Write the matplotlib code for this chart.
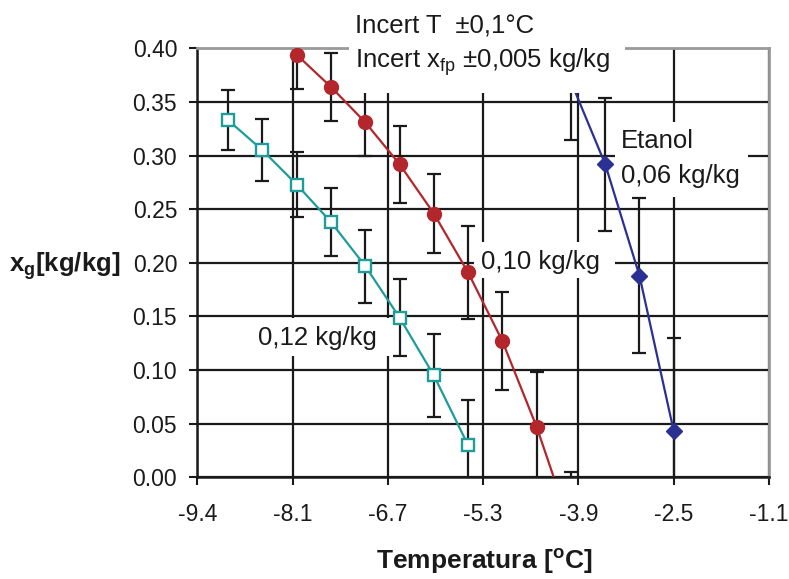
import matplotlib
matplotlib.use("Agg")
import matplotlib.pyplot as plt
from matplotlib.patches import Rectangle

plt.rcParams['font.family'] = ['Liberation Sans', 'DejaVu Sans']
plt.rcParams['mathtext.fontset'] = 'custom'
plt.rcParams['mathtext.rm'] = 'Liberation Sans'
plt.rcParams['mathtext.bf'] = 'Liberation Sans:bold'
plt.rcParams['mathtext.it'] = 'Liberation Sans:italic'

# 0,12 kg/kg
temp_12 = [-9.0, -8.5, -8.0, -7.5, -7.0, -6.5, -6.0, -5.5]
xg_12 = [0.333, 0.305, 0.273, 0.238, 0.197, 0.149, 0.095, 0.030]
err_12 = [0.028, 0.029, 0.030, 0.032, 0.034, 0.036, 0.039, 0.042]

# 0,10 kg/kg
temp_10 = [-8.0, -7.5, -7.0, -6.5, -6.0, -5.5, -5.0, -4.5, -4.0]
xg_10 = [0.394, 0.364, 0.331, 0.292, 0.246, 0.191, 0.127, 0.047, -0.047]
err_10 = [0.032, 0.032, 0.031, 0.036, 0.037, 0.043, 0.046, 0.051, 0.052]

# Etanol 0,06 kg/kg
temp_et = [-4.0, -3.5, -3.0, -2.5]
xg_et = [0.369, 0.292, 0.188, 0.043]
err_et = [0.054, 0.062, 0.072, 0.087]

x_ticks = [-9.45, -8.06, -6.67, -5.28, -3.89, -2.5, -1.11]
x_labels = ["-9.4", "-8.1", "-6.7", "-5.3", "-3.9", "-2.5", "-1.1"]
y_ticks = [0.0, 0.05, 0.10, 0.15, 0.20, 0.25, 0.30, 0.35, 0.40]
y_labels = ["0.00", "0.05", "0.10", "0.15", "0.20", "0.25", "0.30", "0.35", "0.40"]

teal = '#1e9c99'
red = '#b3262c'
blue = '#2a3192'
ink = '#1a1a1a'

fig = plt.figure(figsize=(7.89, 5.79), dpi=100)
ax = fig.add_axes([0.2501, 0.1756, 0.7246, 0.7409])

ax.set_xlim(x_ticks[0], x_ticks[-1])
ax.set_ylim(0, 0.40)
ax.set_xticks(x_ticks)
ax.set_xticklabels(x_labels)
ax.set_yticks(y_ticks)
ax.set_yticklabels(y_labels)
ax.tick_params(direction='out', length=5.5, width=1.5, labelsize=16.5, colors=ink)
ax.tick_params(axis='x', pad=13)
ax.tick_params(axis='y', pad=9)
ax.grid(True, color=ink, lw=1.6)
ax.set_axisbelow(True)

for s in ['left', 'bottom']:
    ax.spines[s].set_color(ink)
    ax.spines[s].set_linewidth(1.8)
for s in ['top', 'right']:
    ax.spines[s].set_color('#9a9a9a')
    ax.spines[s].set_linewidth(2)

# white label boxes (under data)
for (x0, y0, w, h) in [(0.092, 0.283, 0.245, 0.088), (0.484, 0.465, 0.247, 0.083),
                       (0.730, 0.653, 0.233, 0.175)]:
    ax.add_patch(Rectangle((x0, y0), w, h, transform=ax.transAxes, facecolor='white',
                           edgecolor='none', zorder=1.5))

eb = dict(fmt='none', ecolor=ink, elinewidth=1.6, capsize=4.7, capthick=1.6, zorder=3)
ax.errorbar(temp_12, xg_12, yerr=err_12, **eb)
ax.errorbar(temp_10, xg_10, yerr=err_10, **eb)
ax.errorbar(temp_et, xg_et, yerr=err_et, **eb)

ax.plot(temp_12, xg_12, color=teal, lw=1.6, marker='s', ms=8.5, mfc='white', mec=teal,
        mew=1.7, zorder=4)
ax.plot(temp_10, xg_10, color=red, lw=1.6, marker='o', ms=10, mfc=red, mec=red, zorder=4)
ax.plot(temp_et, xg_et, color=blue, lw=1.6, marker='D', ms=8, mfc=blue, mec=blue, zorder=4)

# top box with uncertainty text covers plot top
ax.add_patch(Rectangle((0.265, 0.896), 0.483, 0.25, transform=ax.transAxes, facecolor='white',
                       edgecolor='none', zorder=6, clip_on=False))
ax.text(0.276, 1.050, "Incert T  \u00b10,1\u00b0C", transform=ax.transAxes, fontsize=18.5,
        va='center', ha='left', zorder=7, color=ink)
ax.text(0.276, 0.968, r"Incert x$_{\rm fp}$ $\pm$0,005 kg/kg", transform=ax.transAxes,
        fontsize=18.5, va='center', ha='left', zorder=7, color=ink)

ax.text(0.741, 0.784, "Etanol", transform=ax.transAxes, fontsize=18.5, va='center', zorder=7,
        color=ink)
ax.text(0.741, 0.702, "0,06 kg/kg", transform=ax.transAxes, fontsize=18.5, va='center', zorder=7,
        color=ink)
ax.text(0.496, 0.502, "0,10 kg/kg", transform=ax.transAxes, fontsize=18.5, va='center', zorder=7,
        color=ink)
ax.text(0.106, 0.325, "0,12 kg/kg", transform=ax.transAxes, fontsize=18.5, va='center', zorder=7,
        color=ink)

ax.set_xlabel(r"Temperatura [$\mathbf{^o}$C]", fontsize=19, fontweight='bold', color=ink)
ax.xaxis.set_label_coords(0.502, -0.196)
ax.xaxis.label.set_va('center')
ax.set_ylabel(r"$\mathbf{x_g}$[kg/kg]", fontsize=18.5, fontweight='bold', rotation=0,
              color=ink)
ax.yaxis.set_label_coords(-0.135, 0.4925)
ax.yaxis.label.set_ha('right')
ax.yaxis.label.set_va('center')

fig.savefig("out.png", dpi=100)
